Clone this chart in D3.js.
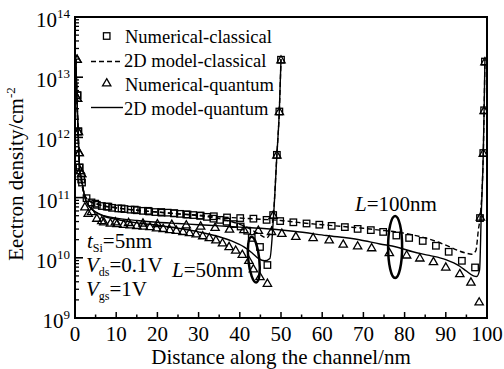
<!DOCTYPE html>
<html><head><meta charset="utf-8">
<script src="https://cdn.jsdelivr.net/npm/d3@7"></script>
<style>
body{margin:0;background:#fff}
svg{display:block}
</style>
</head><body>
<svg id="c" width="504" height="369" font-family="'Liberation Serif', 'Times New Roman', Times, serif"></svg>
<script>
// ---- data (x in nm, value = log10 of electron density in cm^-2) ----
const xTicks = [0,10,20,30,40,50,60,70,80,90,100];
const xMinorTicks = [5,15,25,35,45,55,65,75,85,95];
const yTickExps = [9,10,11,12,13,14];

const c50Num = [[0.6,12.7],[0.8,12.1],[1.1,11.5],[1.5,11.3],[2.8,10.99],[4.0,10.92],[5.3,10.88],[6.5,10.86],[7.7,10.85],[9.0,10.83],[10.5,10.82],[12.0,10.81],[13.5,10.80],[15.0,10.79],[16.5,10.78],[18.0,10.77],[19.5,10.76],[21.0,10.75],[22.5,10.75],[24.0,10.74],[25.5,10.73],[27.0,10.72],[28.7,10.71],[30.3,10.70],[32.0,10.68],[33.6,10.65],[35.2,10.63],[36.8,10.60],[38.5,10.56],[40.2,10.52],[41.8,10.45],[42.9,10.33],[44.9,10.18],[46.7,9.88],[48.1,10.71],[49.0,11.71],[49.6,12.43],[50.0,13.29]];
const c100Num = [[0.6,12.7],[0.8,12.1],[1.1,11.5],[1.7,11.25],[4.9,10.9],[8.1,10.85],[11.3,10.82],[14.5,10.80],[17.7,10.78],[20.9,10.76],[24.1,10.74],[27.3,10.72],[30.5,10.70],[33.7,10.69],[36.9,10.67],[40.1,10.66],[43.3,10.65],[46.5,10.63],[49.8,10.61],[53.0,10.59],[56.2,10.57],[59.3,10.55],[62.3,10.53],[65.5,10.51],[68.6,10.48],[71.8,10.46],[74.8,10.43],[78.0,10.37],[81.1,10.33],[84.4,10.28],[87.6,10.20],[90.7,10.10],[93.9,9.95],[97.1,9.84],[98.3,10.66],[99.1,11.74],[99.3,12.45],[99.5,13.26]];
const q50Num = [[0.5,13.3],[0.6,12.65],[0.8,12.1],[1.0,11.75],[1.3,11.45],[1.6,11.4],[2.4,10.85],[4.0,10.77],[5.3,10.66],[7.0,10.60],[8.6,10.58],[10.2,10.57],[11.8,10.56],[13.4,10.55],[15.0,10.54],[16.6,10.53],[18.2,10.52],[19.8,10.50],[21.4,10.49],[23.0,10.47],[24.6,10.46],[26.2,10.44],[27.8,10.42],[29.4,10.40],[31.0,10.37],[32.6,10.34],[34.2,10.30],[35.8,10.25],[37.4,10.19],[39.0,10.13],[40.6,10.06],[42.2,9.96],[43.3,9.82],[44.9,9.69],[46.7,9.58],[48.1,10.71],[49.0,11.71],[49.6,12.43],[50.0,13.29]];
const q100Num = [[0.5,13.3],[0.6,12.65],[0.8,12.1],[1.0,11.75],[1.3,11.45],[1.6,11.4],[3.2,10.74],[6.5,10.62],[9.8,10.60],[13.0,10.59],[16.5,10.58],[20.0,10.57],[23.5,10.56],[27.0,10.55],[30.5,10.53],[34.0,10.51],[37.5,10.48],[41.0,10.47],[44.5,10.46],[47.7,10.44],[50.2,10.41],[53.6,10.36],[57.8,10.34],[61.7,10.30],[65.1,10.23],[68.6,10.20],[72.0,10.17],[76.3,10.09],[80.5,10.05],[83.7,10.00],[87.0,9.94],[90.0,9.85],[93.4,9.74],[96.1,9.60],[98.1,9.27],[98.4,10.68],[99.1,11.74],[99.3,12.45],[99.5,13.26]];

const c50Mod = [[0.2,13.3],[0.5,12.6],[0.8,12.0],[1.1,11.5],[1.6,11.25],[2.3,11.05],[3,10.97],[6,10.88],[10,10.83],[15,10.79],[20,10.76],[25,10.73],[30,10.70],[35,10.65],[38,10.60],[41,10.53],[43,10.46],[45,10.38],[46.5,10.33],[47.4,10.42],[48.2,10.75],[49,11.72],[49.6,12.45],[50,13.3]];
const q50Mod = [[0.2,13.3],[0.5,12.6],[0.8,12.0],[1.1,11.5],[1.6,11.3],[2.4,11.0],[3.5,10.85],[5,10.76],[7,10.69],[10,10.64],[15,10.58],[20,10.54],[25,10.49],[30,10.43],[35,10.35],[38,10.28],[41,10.18],[43,10.08],[44.5,9.99],[46,9.95],[47.3,9.99],[48.2,10.7],[49,11.7],[49.6,12.45],[50,13.3]];
const c100Mod = [[0.2,13.3],[0.5,12.6],[0.8,12.0],[1.1,11.5],[1.6,11.25],[2.3,11.05],[3,10.97],[6,10.88],[10,10.83],[15,10.79],[20,10.76],[25,10.73],[30,10.71],[35,10.68],[40,10.66],[45,10.64],[50,10.62],[55,10.58],[60,10.55],[65,10.52],[70,10.49],[74,10.46],[78,10.43],[82,10.38],[86,10.31],[90,10.21],[93,10.12],[94.8,10.08],[96.3,10.06],[97.3,10.12],[97.9,10.46],[98.4,10.72],[99.1,11.74],[99.3,12.45],[99.5,13.3]];
const q100Mod = [[0.2,13.3],[0.5,12.6],[0.8,12.0],[1.1,11.5],[1.6,11.3],[2.4,11.0],[3.5,10.85],[5,10.76],[7,10.70],[10,10.66],[15,10.62],[20,10.59],[25,10.57],[30,10.55],[35,10.53],[40,10.51],[45,10.49],[53,10.44],[61,10.37],[69,10.30],[74,10.23],[78,10.18],[82,10.10],[86,10.04],[90,9.97],[93.4,9.86],[95,9.78],[96.7,9.70],[97.5,9.69],[98.2,9.8],[98.6,10.7],[99.1,11.74],[99.3,12.45],[99.5,13.3]];

// annotation ellipses: [x nm, log10 density]
const ellipse50 = [43.4, 9.97];
const ellipse100 = [77.7, 10.18];

const legendItems = ["Numerical-classical","2D model-classical","Numerical-quantum","2D model-quantum"];

// ---- drawing ----
const FONT = "'Liberation Serif', 'Times New Roman', Times, serif";
const svg = d3.select("#c");
const L = 75, R = 487, T = 17, B = 318;
const x = d3.scaleLinear().domain([0,100]).range([L,R]);
const y = d3.scaleLog().domain([1e9,1e14]).range([B,T]);
const Y = v => y(Math.pow(10, v));

const plot = svg.append("g");
plot.append("defs").append("clipPath").attr("id","clip")
  .append("rect").attr("x",L).attr("y",T).attr("width",R-L).attr("height",B-T);
const g = plot.append("g").attr("clip-path","url(#clip)");

const line = d3.line().x(d=>x(d[0])).y(d=>Y(d[1])).curve(d3.curveMonotoneX);

function drawLine(data, dash){
  g.append("path").datum(data).attr("d", line)
   .attr("fill","none").attr("stroke","#000").attr("stroke-width",1.4)
   .attr("stroke-dasharray", dash ? "5,3" : null);
}
drawLine(c100Mod, true);
drawLine(c50Mod, true);
drawLine(q100Mod, false);
drawLine(q50Mod, false);

const sq = 6.5;
function drawSquares(data){
  g.append("g").selectAll("rect").data(data).join("rect")
   .attr("x", d=>x(d[0])-sq/2).attr("y", d=>Y(d[1])-sq/2)
   .attr("width", sq).attr("height", sq)
   .attr("fill","none").attr("stroke","#000").attr("stroke-width",1.3);
}
const tri = d3.symbol().type(d3.symbolTriangle).size(30);
function drawTriangles(data){
  g.append("g").selectAll("path").data(data).join("path")
   .attr("d", tri).attr("transform", d=>`translate(${x(d[0])},${Y(d[1])+0.8})`)
   .attr("fill","none").attr("stroke","#000").attr("stroke-width",1.3);
}
drawSquares(c50Num);
drawSquares(c100Num);
drawTriangles(q50Num);
drawTriangles(q100Num);

// ellipses
function drawEllipse(c, rx, ry, rot){
  const cx = x(c[0]), cy = Y(c[1]);
  svg.append("ellipse").attr("cx",cx).attr("cy",cy).attr("rx",rx).attr("ry",ry)
    .attr("transform",`rotate(${rot},${cx},${cy})`)
    .attr("fill","none").attr("stroke","#000").attr("stroke-width",2.5);
}
drawEllipse(ellipse50, 5.5, 23, -6);
drawEllipse(ellipse100, 7, 31, 0);

// frame
svg.append("rect").attr("x",L).attr("y",T).attr("width",R-L).attr("height",B-T)
  .attr("fill","none").attr("stroke","#000").attr("stroke-width",2);

function txt(sel){ return sel.attr("font-family", FONT).attr("fill","#000"); }

// x ticks (inward)
svg.append("g").selectAll("line").data(xTicks).join("line")
  .attr("x1",d=>x(d)).attr("x2",d=>x(d)).attr("y1",B).attr("y2",B-6)
  .attr("stroke","#000").attr("stroke-width",1.5);
svg.append("g").selectAll("line").data(xMinorTicks).join("line")
  .attr("x1",d=>x(d)).attr("x2",d=>x(d)).attr("y1",B).attr("y2",B-3.5)
  .attr("stroke","#000").attr("stroke-width",1.5);
txt(svg.append("g").selectAll("text").data(xTicks).join("text"))
  .attr("x",d=>x(d)).attr("y",341).attr("text-anchor","middle")
  .attr("font-size",21).text(d=>d);

// y ticks
const yMinor = [];
yTickExps.slice(0,-1).forEach(e=>{ for(let k=2;k<=9;k++) yMinor.push(k*Math.pow(10,e)); });
svg.append("g").selectAll("line").data(yMinor).join("line")
  .attr("x1",L).attr("x2",L+4).attr("y1",d=>y(d)).attr("y2",d=>y(d))
  .attr("stroke","#000").attr("stroke-width",1.3);
svg.append("g").selectAll("line").data(yTickExps).join("line")
  .attr("x1",L).attr("x2",L+8).attr("y1",d=>Y(d)).attr("y2",d=>Y(d))
  .attr("stroke","#000").attr("stroke-width",1.6);
const yl = txt(svg.append("g").selectAll("text").data(yTickExps).join("text"))
  .attr("x",70).attr("y",d=>Y(d)+10).attr("text-anchor","end").attr("font-size",21);
yl.append("tspan").text("10");
yl.append("tspan").attr("font-size",13).attr("dy",-9).text(d=>d);

// axis titles
txt(svg.append("text")).attr("x",(L+R)/2).attr("y",364).attr("text-anchor","middle")
  .attr("font-size",21).text("Distance along the channel/nm");
const yt = txt(svg.append("text")).attr("transform","translate(23,174) rotate(-90)")
  .attr("text-anchor","middle").attr("font-size",21);
yt.append("tspan").text("Eectron density/cm");
yt.append("tspan").attr("font-size",13).attr("dy",-8).text("-2");

// legend
const lg = svg.append("g");
const rowY = [36, 60.5, 84.5, 108.5];
lg.append("rect").attr("x",106.7-sq/2).attr("y",rowY[0]-sq/2).attr("width",sq).attr("height",sq)
  .attr("fill","none").attr("stroke","#000").attr("stroke-width",1.3);
lg.append("line").attr("x1",91).attr("x2",123).attr("y1",rowY[1]+1).attr("y2",rowY[1]+1)
  .attr("stroke","#000").attr("stroke-width",1.4).attr("stroke-dasharray","5,3");
lg.append("path").attr("d",tri).attr("transform",`translate(106.7,${rowY[2]-1})`)
  .attr("fill","none").attr("stroke","#000").attr("stroke-width",1.3);
lg.append("line").attr("x1",91).attr("x2",123).attr("y1",rowY[3]-1).attr("y2",rowY[3]-1)
  .attr("stroke","#000").attr("stroke-width",1.4);
txt(lg.selectAll("text").data(legendItems).join("text"))
  .attr("x",(d,i)=> i%2 ? 124 : 125).attr("y",(d,i)=>rowY[i]+6.5)
  .attr("font-size",18.5).text(d=>d);

// annotations
function labelL(xp, yp, num){
  const t = txt(svg.append("text")).attr("x",xp).attr("y",yp).attr("font-size",21);
  t.append("tspan").attr("font-style","italic").text("L");
  t.append("tspan").text("=" + num + "nm");
}
labelL(355, 211, "100");
labelL(172, 277, "50");

function paramText(xp, yp, sym, sub, rest){
  const t = txt(svg.append("text")).attr("x",xp).attr("y",yp).attr("font-size",21);
  t.append("tspan").attr("font-style","italic").text(sym);
  t.append("tspan").attr("font-size",12).attr("dy",4).text(sub);
  t.append("tspan").attr("dy",-4).text(rest);
}
paramText(87, 248, "t", "Si", "=5nm");
paramText(86, 272, "V", "ds", "=0.1V");
paramText(86, 296, "V", "gs", "=1V");
</script>
</body></html>
